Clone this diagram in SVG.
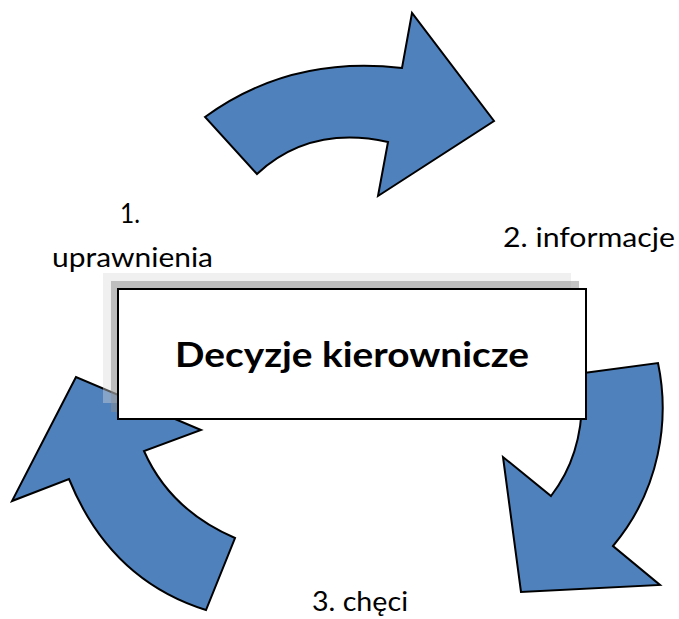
<svg xmlns="http://www.w3.org/2000/svg" width="679" height="619" viewBox="0 0 679 619">
<style>
.arrow{fill:#4F81BD;stroke:#000;stroke-width:2;stroke-linejoin:miter}
.lbl{font-family:Lato,"Open Sans","Liberation Sans",sans-serif;font-size:27px;fill:#000}
.title{font-family:Lato,"Open Sans","Liberation Sans",sans-serif;font-size:35px;font-weight:bold;fill:#000}
</style>
<g id="connectors">
<path id="arrow-top" class="arrow" d="M205,117 Q290,55 402,68 L412,13 L494,121 L378,196 L388,142 Q310,125 257,174 Z"/>
<path id="arrow-right" class="arrow" d="M580,373.5 L658,363 C670,420 660,490 613,546 L660,585 L521,592 L503,457 L551,496 Q583,455 582,395 Z"/>
<path id="arrow-left" class="arrow" d="M76,377 L12,501 L69,479 Q110,580 206,610 L235,538 Q170,510 144,451 L201,430 Z"/>
</g>
<g id="center">
<rect x="103" y="273" width="468" height="130" fill="#d9d9d9" fill-opacity="0.4"/>
<rect x="111" y="281" width="468" height="131" fill="#8c8c8c" fill-opacity="0.5"/>
<rect x="118" y="289" width="468" height="130" fill="#fff" stroke="#000" stroke-width="2"/>
<text class="title" x="352" y="367" text-anchor="middle" textLength="354" lengthAdjust="spacingAndGlyphs">Decyzje kierownicze</text>
</g>
<g id="label-1">
<text class="lbl" x="120" y="223" textLength="20" lengthAdjust="spacingAndGlyphs">1.</text>
<text class="lbl" x="52" y="267" textLength="161" lengthAdjust="spacingAndGlyphs">uprawnienia</text>
</g>
<g id="label-2">
<text class="lbl" x="503" y="247" textLength="172" lengthAdjust="spacingAndGlyphs">2. informacje</text>
</g>
<g id="label-3">
<text class="lbl" x="312" y="611" textLength="96" lengthAdjust="spacingAndGlyphs">3. chęci</text>
</g>
</svg>
